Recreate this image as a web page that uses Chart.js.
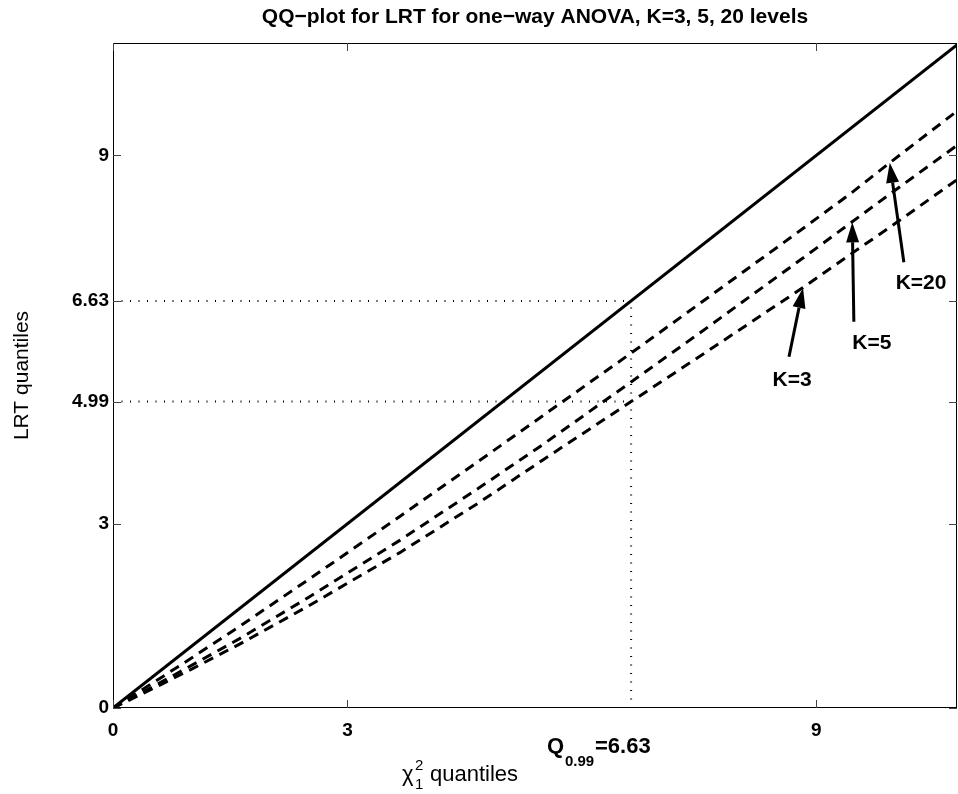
<!DOCTYPE html>
<html>
<head>
<meta charset="utf-8">
<script src="https://cdn.jsdelivr.net/npm/chart.js@4/dist/chart.umd.min.js"></script>
<style>
	html, body { margin: 0; padding: 0; background: #fff; }
	canvas { display: block; }
</style>
</head>
<body>
<canvas id="qq" width="958" height="794"></canvas>
<script>
// chi-square(1) quantiles on x, LRT quantiles for each K on y
var chiQuantiles = [0, 0.5, 1.0, 1.62, 2.5, 3.67, 4.69, 5.5, 6.63, 7.5, 8.82, 9.45, 9.93, 10.83];
var lrtK20 = [0, 0.40, 0.81, 1.33, 2.09, 3.12, 4.03, 4.76, 5.78, 6.58, 7.80, 8.39, 8.87, 9.75];
var lrtK5 = [0, 0.34, 0.69, 1.13, 1.80, 2.73, 3.59, 4.29, 5.31, 6.10, 7.32, 7.91, 8.36, 9.19];
var lrtK3 = [0, 0.31, 0.63, 1.04, 1.66, 2.53, 3.35, 4.04, 4.99, 5.72, 6.84, 7.40, 7.82, 8.63];

var xTicks = [0, 3, 9];
var yTicks = [0, 3, 4.99, 6.63, 9];
var xTickLabels = ['0', '3', '9'];
var yTickLabels = ['0', '3', '4.99', '6.63', '9'];

var q99 = 6.63;      // chi2_1 0.99 quantile
var q99K3 = 4.99;    // LRT quantile for K=3 at that point
var xMax = 10.8;
var yMax = 10.83;

// arrows: label, tail, tip (data units)
var arrowLabels = ['K=3', 'K=5', 'K=20'];
var arrowTails = [[8.65, 5.72], [9.48, 6.29], [10.12, 7.26]];
var arrowTips = [[8.83, 6.84], [9.46, 7.91], [9.94, 8.88]];
var labelPos = [[8.69, 5.34], [9.71, 5.94], [10.34, 6.92]];

function points(xs, ys) {
	return xs.map(function (x, i) { return {x: x, y: ys[i]}; });
}

function lineSet(data, dash, width) {
	return {
		data: data,
		showLine: true,
		borderColor: '#000',
		borderWidth: width,
		borderDash: dash,
		pointRadius: 0,
		fill: false,
		tension: 0
	};
}

var FONT = 'Liberation Sans, Arial, Helvetica, sans-serif';

var boxPlugin = {
	id: 'matlabBox',
	afterDraw: function (chart) {
		var ctx = chart.ctx;
		var a = chart.chartArea;
		var xs = chart.scales.x;
		var ys = chart.scales.y;

		ctx.save();

		// frame
		ctx.strokeStyle = '#000';
		ctx.lineWidth = 1;
		ctx.strokeRect(a.left + 0.5, a.top + 0.5, a.right - a.left - 1, a.bottom - a.top - 1);

		// inward ticks
		ctx.strokeStyle = '#444';
		ctx.beginPath();
		xTicks.forEach(function (t) {
			var px = Math.round(xs.getPixelForValue(t)) + 0.5;
			ctx.moveTo(px, a.bottom); ctx.lineTo(px, a.bottom - 8);
			ctx.moveTo(px, a.top); ctx.lineTo(px, a.top + 8);
		});
		yTicks.forEach(function (t) {
			var py = Math.round(ys.getPixelForValue(t)) + 0.5;
			ctx.moveTo(a.left, py); ctx.lineTo(a.left + 8, py);
			ctx.moveTo(a.right, py); ctx.lineTo(a.right - 8, py);
		});
		ctx.stroke();

		// tick labels
		ctx.fillStyle = '#000';
		ctx.font = 'bold 19px ' + FONT;
		ctx.textAlign = 'center';
		ctx.textBaseline = 'top';
		xTicks.forEach(function (t, i) {
			ctx.fillText(xTickLabels[i], xs.getPixelForValue(t), a.bottom + 13);
		});
		ctx.textAlign = 'right';
		ctx.textBaseline = 'middle';
		yTicks.forEach(function (t, i) {
			ctx.fillText(yTickLabels[i], a.left - 4, ys.getPixelForValue(t));
		});

		// title
		ctx.textAlign = 'center';
		ctx.textBaseline = 'middle';
		ctx.font = 'bold 21px ' + FONT;
		ctx.fillText('QQ\u2212plot for LRT for one\u2212way ANOVA, K=3, 5, 20 levels', (a.left + a.right) / 2, 17);

		// y title
		ctx.font = '21px ' + FONT;
		ctx.save();
		ctx.translate(22, (a.top + a.bottom) / 2);
		ctx.rotate(-Math.PI / 2);
		ctx.fillText('LRT quantiles', 0, 0);
		ctx.restore();

		// x title: chi^2_1 quantiles
		ctx.textAlign = 'left';
		ctx.textBaseline = 'alphabetic';
		ctx.font = '22px ' + FONT;
		ctx.fillText('\u03c7', 402, 781);
		ctx.font = '15px ' + FONT;
		ctx.fillText('2', 415, 770);
		ctx.fillText('1', 415, 789);
		ctx.font = '22px ' + FONT;
		ctx.fillText('quantiles', 430, 781);

		// Q_0.99 = 6.63
		ctx.font = 'bold 22px ' + FONT;
		ctx.fillText('Q', 547, 753);
		ctx.font = 'bold 15px ' + FONT;
		ctx.fillText('0.99', 565, 766);
		ctx.font = 'bold 22px ' + FONT;
		ctx.fillText('=' + q99.toFixed(2), 595, 753);

		// arrows
		ctx.fillStyle = '#000';
		ctx.strokeStyle = '#000';
		ctx.lineWidth = 3;
		arrowLabels.forEach(function (lab, i) {
			var x0 = xs.getPixelForValue(arrowTails[i][0]);
			var y0 = ys.getPixelForValue(arrowTails[i][1]);
			var x1 = xs.getPixelForValue(arrowTips[i][0]);
			var y1 = ys.getPixelForValue(arrowTips[i][1]);
			var ang = Math.atan2(y1 - y0, x1 - x0);
			var hl = 20, hw = 6.5;
			var bx = x1 - hl * Math.cos(ang), by = y1 - hl * Math.sin(ang);
			ctx.beginPath();
			ctx.moveTo(x0, y0);
			ctx.lineTo(bx, by);
			ctx.stroke();
			ctx.beginPath();
			ctx.moveTo(x1, y1);
			ctx.lineTo(bx + hw * Math.sin(ang), by - hw * Math.cos(ang));
			ctx.lineTo(bx - hw * Math.sin(ang), by + hw * Math.cos(ang));
			ctx.closePath();
			ctx.fill();

			ctx.font = 'bold 21px ' + FONT;
			ctx.textAlign = 'center';
			ctx.textBaseline = 'middle';
			ctx.fillText(lab, xs.getPixelForValue(labelPos[i][0]), ys.getPixelForValue(labelPos[i][1]));
		});

		ctx.restore();
	}
};

new Chart(document.getElementById('qq'), {
	type: 'scatter',
	data: {
		datasets: [
			lineSet([{x: 0, y: 0}, {x: chiQuantiles[chiQuantiles.length - 1], y: chiQuantiles[chiQuantiles.length - 1]}], [], 3),
			lineSet(points(chiQuantiles, lrtK20), [10, 7], 3),
			lineSet(points(chiQuantiles, lrtK5), [10, 7], 3),
			lineSet(points(chiQuantiles, lrtK3), [10, 7], 3),
			lineSet([{x: 0, y: q99}, {x: q99, y: q99}], [1, 7.5], 2),
			lineSet([{x: 0, y: q99K3}, {x: q99, y: q99K3}], [1, 7.5], 2),
			lineSet([{x: q99, y: 0}, {x: q99, y: q99}], [1, 7.5], 2)
		]
	},
	options: {
		responsive: false,
		animation: false,
		devicePixelRatio: 1,
		layout: {
			padding: {left: 113, right: 1, top: 43, bottom: 86}
		},
		scales: {
			x: {type: 'linear', min: 0, max: xMax, display: false},
			y: {type: 'linear', min: 0, max: yMax, display: false}
		},
		plugins: {
			legend: {display: false},
			tooltip: {enabled: false},
			title: {display: false}
		}
	},
	plugins: [boxPlugin]
});
</script>
</body>
</html>
